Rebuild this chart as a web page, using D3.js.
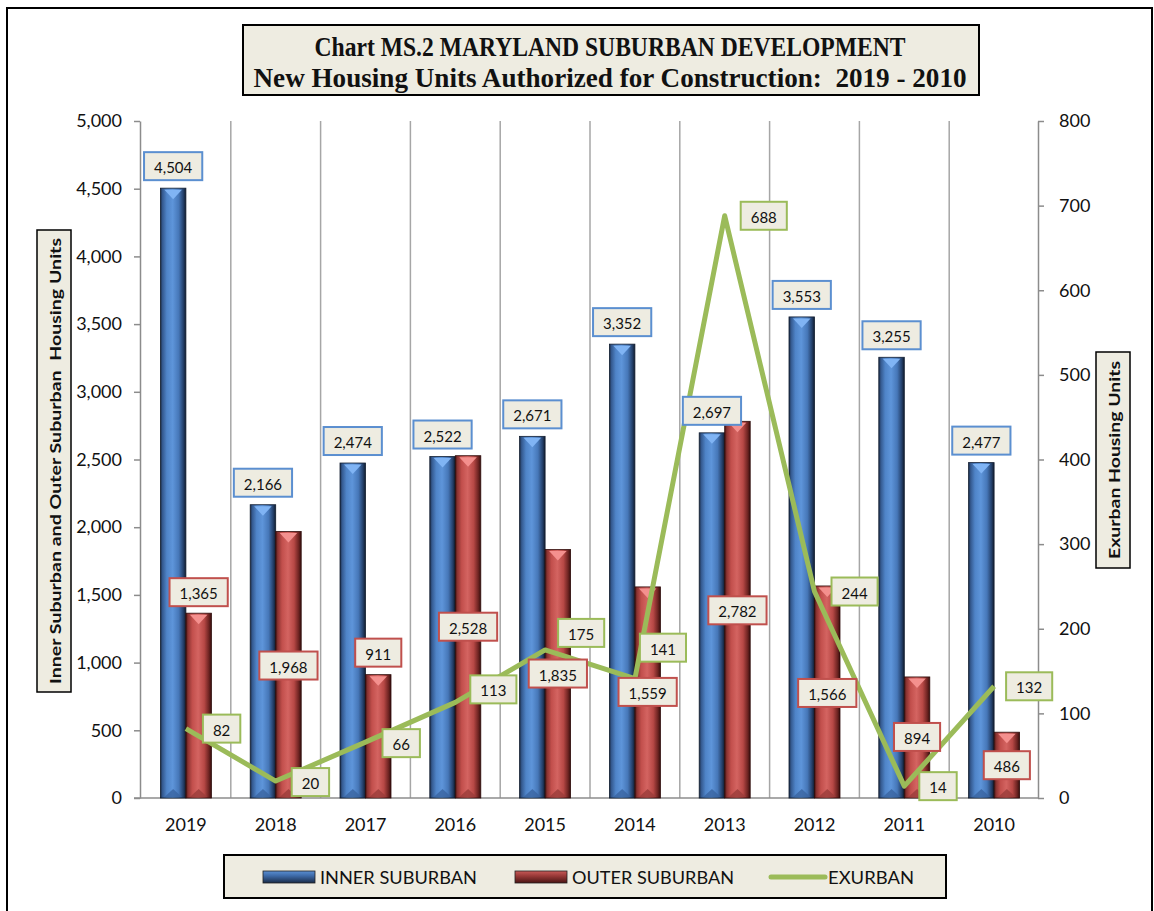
<!DOCTYPE html>
<html>
<head>
<meta charset="utf-8">
<script src="https://cdn.jsdelivr.net/npm/d3@7"></script>
<style>
  body { margin: 0; background: #fff; }
  text { font-family: Lato, "Open Sans", sans-serif; }
</style>
</head>
<body>
<div class="chart-goes-here"></div>
<script>
// values
var years = ["2019", "2018", "2017", "2016", "2015", "2014", "2013", "2012", "2011", "2010"];
var innerSuburban = [4504, 2166, 2474, 2522, 2671, 3352, 2697, 3553, 3255, 2477];
var outerSuburban = [1365, 1968, 911, 2528, 1835, 1559, 2782, 1566, 894, 486];
var exurban = [82, 20, 66, 113, 175, 141, 688, 244, 14, 132];
var leftTicks = [0, 500, 1000, 1500, 2000, 2500, 3000, 3500, 4000, 4500, 5000];
var rightTicks = [0, 100, 200, 300, 400, 500, 600, 700, 800];

// where Excel put the data labels (pixel nudges, not data)
var outerLabelDy = [-21, 134, -22, 171, 124, 105, 189, 107, 60, 33];
var exLabelDx = [17, 16, 17, 15, 13, 5, 16, 17, 15, 12];
var exLabelDy = [0, 1, 1, -13, -17, -31, 0, 0, 0, 0];

var W = 1154, H = 911;
var plot = { left: 141, right: 1039, top: 121, bottom: 798 };

var svg = d3.select(".chart-goes-here")
    .append("svg")
    .attr("width", W)
    .attr("height", H);

var defs = svg.append("defs");

function barGradient(id, stops) {
    var g = defs.append("linearGradient").attr("id", id)
        .attr("x1", "0%").attr("x2", "100%").attr("y1", "0%").attr("y2", "0%");
    stops.forEach(s => g.append("stop").attr("offset", s[0]).attr("stop-color", s[1]));
}
barGradient("blueBar", [["0%", "#1a2a44"], ["8%", "#34598f"], ["25%", "#4f84c8"], ["48%", "#5e95da"], ["72%", "#4677b8"], ["90%", "#24406a"], ["100%", "#111c2e"]]);
barGradient("redBar", [["0%", "#441312"], ["8%", "#8a3331"], ["25%", "#c24f4c"], ["48%", "#d46461"], ["72%", "#b74845"], ["90%", "#6e2422"], ["100%", "#360e0d"]]);

// outer frame
svg.append("rect")
    .attr("x", 7).attr("y", 8)
    .attr("width", 1145).attr("height", 930)
    .attr("fill", "none").attr("stroke", "#000").attr("stroke-width", 2);

var xScale = d3.scaleBand().domain(years).range([plot.left, plot.right]);
var leftScale = d3.scaleLinear().domain([0, 5000]).range([plot.bottom, plot.top]);
var rightScale = d3.scaleLinear().domain([0, 800]).range([plot.bottom, plot.top]);
var center = d => xScale(d) + xScale.bandwidth() / 2;

// vertical grid lines between years
svg.append("g").selectAll("line")
    .data(years.slice(1))
    .enter().append("line")
    .attr("x1", d => xScale(d)).attr("x2", d => xScale(d))
    .attr("y1", plot.top).attr("y2", plot.bottom)
    .attr("stroke", "#a6a6a6").attr("stroke-width", 1.5);

// axes
var leftAxis = svg.append("g")
    .attr("transform", "translate(" + (plot.left - 1) + ",0)")
    .call(d3.axisLeft(leftScale).tickValues(leftTicks).tickFormat(d3.format(",")).tickSize(6).tickSizeOuter(0).tickPadding(12));
var rightAxis = svg.append("g")
    .attr("transform", "translate(" + (plot.right - 1) + ",0)")
    .call(d3.axisRight(rightScale).tickValues(rightTicks).tickSize(6).tickSizeOuter(0).tickPadding(15));
var yearAxis = svg.append("g")
    .attr("transform", "translate(0," + plot.bottom + ")")
    .call(d3.axisBottom(xScale).tickSize(0).tickPadding(20));

[leftAxis, rightAxis, yearAxis].forEach(a => {
    a.selectAll("path, line").attr("stroke", "#8c8c8c").attr("stroke-width", 1.5);
    a.selectAll("text").attr("fill", "#111").style("font-size", "18px").style("font-family", "Lato, sans-serif");
});
yearAxis.select(".domain").attr("d", "M" + (plot.left - 7) + ",0H" + (plot.right - 1));

// bars
var sub = d => d3.scaleBand().domain(["inner", "outer"]).range([center(d) - 25.5, center(d) + 25.5]);
var barData = [];
years.forEach((y, i) => {
    barData.push({ year: y, key: "inner", value: innerSuburban[i], i: i });
    barData.push({ year: y, key: "outer", value: outerSuburban[i], i: i });
});

var bars = svg.append("g").selectAll("g.bar")
    .data(barData)
    .enter().append("g").attr("class", "bar");

bars.append("rect")
    .attr("x", d => sub(d.year)(d.key))
    .attr("width", d => sub(d.year).bandwidth())
    .attr("y", d => leftScale(d.value))
    .attr("height", d => plot.bottom - leftScale(d.value))
    .attr("fill", d => d.key == "inner" ? "url(#blueBar)" : "url(#redBar)")
    .attr("stroke", d => d.key == "inner" ? "#111d30" : "#2e0c0b")
    .attr("stroke-width", 0.8);

// bevel triangle on top
bars.append("path")
    .attr("d", d => {
        var x0 = sub(d.year)(d.key), w = sub(d.year).bandwidth(), t = leftScale(d.value);
        return "M" + (x0 + 4) + "," + (t + 1.5) + "L" + (x0 + w - 4) + "," + (t + 1.5) + "L" + (x0 + w / 2) + "," + (t + 11) + "Z";
    })
    .attr("fill", d => d.key == "inner" ? "#80b4f4" : "#f4908e");
// small bevel at the base
bars.append("path")
    .attr("d", d => {
        var x0 = sub(d.year)(d.key), w = sub(d.year).bandwidth(), b = plot.bottom;
        return "M" + (x0 + 4) + "," + (b - 1) + "L" + (x0 + w - 4) + "," + (b - 1) + "L" + (x0 + w / 2) + "," + (b - 9) + "Z";
    })
    .attr("fill", d => d.key == "inner" ? "#3a64a0" : "#9a3c3a")
    .attr("opacity", 0.8);

// exurban line
svg.append("path")
    .datum(exurban)
    .attr("fill", "none")
    .attr("stroke", "#9bbb59")
    .attr("stroke-width", 5)
    .attr("stroke-linejoin", "round")
    .attr("d", d3.line()
        .x((d, i) => center(years[i]))
        .y(d => rightScale(d)));

// data label boxes
var fmt = d3.format(",");
var labels = svg.append("g");
function addLabel(txt, cx, cy, border, anchorLeft) {
    var g = labels.append("g");
    var r = g.append("rect");
    var t = g.append("text")
        .attr("text-anchor", "middle")
        .attr("dominant-baseline", "central")
        .style("font-size", "15px")
        .attr("fill", "#111")
        .text(txt);
    var w = t.node().getComputedTextLength() + 20, h = 28;
    if (anchorLeft) cx = cx + w / 2;
    t.attr("x", cx).attr("y", cy + 1);
    r.attr("x", cx - w / 2).attr("y", cy - h / 2)
        .attr("width", w).attr("height", h)
        .attr("fill", "#eeece1").attr("stroke", border).attr("stroke-width", 2);
}

years.forEach((y, i) => {
    var s = sub(y);
    addLabel(fmt(innerSuburban[i]), s("inner") + s.bandwidth() / 2, leftScale(innerSuburban[i]) - 22, "#5b8fd0", false);
    addLabel(fmt(outerSuburban[i]), s("outer") + s.bandwidth() / 2, leftScale(outerSuburban[i]) + outerLabelDy[i], "#c0504d", false);
});
years.forEach((y, i) => {
    addLabel(fmt(exurban[i]), center(y) + exLabelDx[i], rightScale(exurban[i]) + exLabelDy[i], "#9bbb59", true);
});

// title box
svg.append("rect")
    .attr("x", 243).attr("y", 25).attr("width", 736).attr("height", 70)
    .attr("fill", "#eeece1").attr("stroke", "#000").attr("stroke-width", 2);
var titleLines = ["Chart MS.2 MARYLAND SUBURBAN DEVELOPMENT", "New Housing Units Authorized for Construction:  2019 - 2010"];
var titleWidths = [591, 713];
svg.append("g").selectAll("text")
    .data(titleLines)
    .enter().append("text")
    .attr("x", 610)
    .attr("y", (d, i) => 56 + i * 31)
    .attr("text-anchor", "middle")
    .attr("textLength", (d, i) => titleWidths[i])
    .attr("lengthAdjust", "spacingAndGlyphs")
    .style("font-family", "'Liberation Serif', serif")
    .style("font-weight", "bold")
    .style("font-size", "27px")
    .style("white-space", "pre")
    .attr("fill", "#111")
    .text(d => d);

// axis title boxes
function axisTitle(txt, bx, by, bw, bh, len) {
    svg.append("rect")
        .attr("x", bx).attr("y", by).attr("width", bw).attr("height", bh)
        .attr("fill", "#eeece1").attr("stroke", "#000").attr("stroke-width", 1.5);
    svg.append("text")
        .attr("transform", "translate(" + (bx + bw / 2) + "," + (by + bh / 2) + ") rotate(-90)")
        .attr("text-anchor", "middle")
        .attr("dominant-baseline", "central")
        .attr("textLength", len)
        .attr("lengthAdjust", "spacingAndGlyphs")
        .style("font-size", "16px")
        .style("font-weight", "bold")
        .style("white-space", "pre")
        .attr("fill", "#111")
        .text(txt);
}
axisTitle("Inner Suburban and Outer Suburban  Housing Units", 37, 230, 34, 462, 446);
axisTitle("Exurban Housing Units", 1096, 352, 34, 216, 198);

// legend
svg.append("rect")
    .attr("x", 224).attr("y", 855).attr("width", 722).attr("height", 43)
    .attr("fill", "#eeece1").attr("stroke", "#000").attr("stroke-width", 2);
var legendItems = [
    { name: "INNER SUBURBAN", x: 263, fill: "url(#legBlue)", len: 157 },
    { name: "OUTER SUBURBAN", x: 515, fill: "url(#legRed)", len: 162 },
    { name: "EXURBAN", x: 771, fill: null, len: 86 }
];
var lg1 = defs.append("linearGradient").attr("id", "legBlue").attr("x1", 0).attr("x2", 0).attr("y1", 0).attr("y2", 1);
[["0%", "#5a8fd3"], ["40%", "#3d6aa8"], ["100%", "#1a2c48"]].forEach(s => lg1.append("stop").attr("offset", s[0]).attr("stop-color", s[1]));
var lg2 = defs.append("linearGradient").attr("id", "legRed").attr("x1", 0).attr("x2", 0).attr("y1", 0).attr("y2", 1);
[["0%", "#c85a57"], ["40%", "#9a3a38"], ["100%", "#4a1514"]].forEach(s => lg2.append("stop").attr("offset", s[0]).attr("stop-color", s[1]));

legendItems.forEach(it => {
    if (it.fill) {
        svg.append("rect")
            .attr("x", it.x).attr("y", 871).attr("width", 52).attr("height", 12)
            .attr("fill", it.fill).attr("stroke", "#222").attr("stroke-width", 0.8);
    } else {
        svg.append("line")
            .attr("x1", it.x).attr("x2", it.x + 54).attr("y1", 877).attr("y2", 877)
            .attr("stroke", "#9bbb59").attr("stroke-width", 5).attr("stroke-linecap", "round");
    }
    svg.append("text")
        .attr("x", it.x + 57).attr("y", 877)
        .attr("dominant-baseline", "central")
        .attr("textLength", it.len)
        .attr("lengthAdjust", "spacingAndGlyphs")
        .style("font-size", "18px")
        .attr("fill", "#111")
        .text(it.name);
});
</script>
</body>
</html>
